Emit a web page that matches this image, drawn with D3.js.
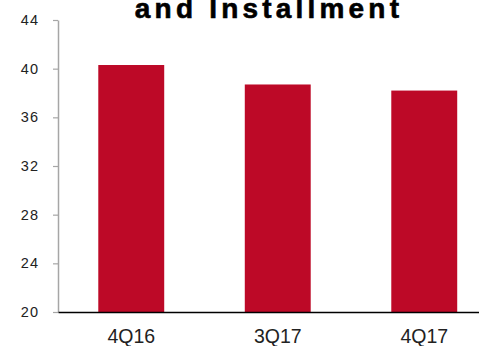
<!DOCTYPE html>
<html>
<head>
<meta charset="utf-8">
<script src="https://cdn.jsdelivr.net/npm/d3@7"></script>
<style>
  body { margin: 0; background: #fff; }
  svg { display: block; font-family: "Liberation Sans", Arial, sans-serif; }
</style>
</head>
<body>
<script>
const categories = ["4Q16", "3Q17", "4Q17"];
const values = [40.3, 38.7, 38.2];
const yTicks = [20, 24, 28, 32, 36, 40, 44];
const titleText = "and Installment";

const width = 479, height = 346;
const margin = { left: 58, top: 20, bottom: 312 };

const svg = d3.select("body").append("svg")
  .attr("width", width)
  .attr("height", height);

// x goes a bit past the right edge, the chart is cropped there
const x = d3.scaleBand()
  .domain(categories)
  .range([margin.left, 497.5])
  .paddingInner(0.55)
  .paddingOuter(0.275);

const y = d3.scaleLinear()
  .domain([20, 44])
  .range([margin.bottom, margin.top]);

// bars
svg.append("g")
  .selectAll("rect")
  .data(values)
  .join("rect")
  .attr("x", (d, i) => x(categories[i]))
  .attr("width", x.bandwidth())
  .attr("y", d => y(d))
  .attr("height", d => y(20) - y(d))
  .attr("fill", "#BD0927");

// left axis
const yAxis = svg.append("g")
  .attr("transform", `translate(${margin.left},0)`)
  .call(d3.axisLeft(y).tickValues(yTicks).tickSize(5).tickPadding(14).tickSizeOuter(0));
yAxis.select(".domain").attr("stroke", "#a6a6a6").attr("stroke-width", 1.5);
yAxis.selectAll(".tick line").attr("stroke", "#a6a6a6").attr("stroke-width", 1.2);
yAxis.selectAll(".tick text")
  .attr("fill", "#222")
  .style("font-size", "14.5px")
  .style("letter-spacing", "1px");

// bottom axis
const xAxis = svg.append("g")
  .attr("transform", `translate(0,${margin.bottom})`)
  .call(d3.axisBottom(x).tickSize(0).tickPadding(0).tickSizeOuter(0));
xAxis.select(".domain").attr("stroke", "#000").attr("stroke-width", 1.5);
xAxis.selectAll(".tick text")
  .attr("dy", null)
  .attr("y", 31)
  .attr("fill", "#222")
  .style("font-size", "19.5px");

// title, cut at top
svg.append("text")
  .attr("x", 269)
  .attr("y", 17.5)
  .attr("text-anchor", "middle")
  .style("font-size", "28px")
  .style("font-weight", "bold")
  .style("letter-spacing", "4.2px")
  .attr("fill", "#000")
  .attr("stroke", "#000")
  .attr("stroke-width", 0.6)
  .text(titleText);
</script>
</body>
</html>
